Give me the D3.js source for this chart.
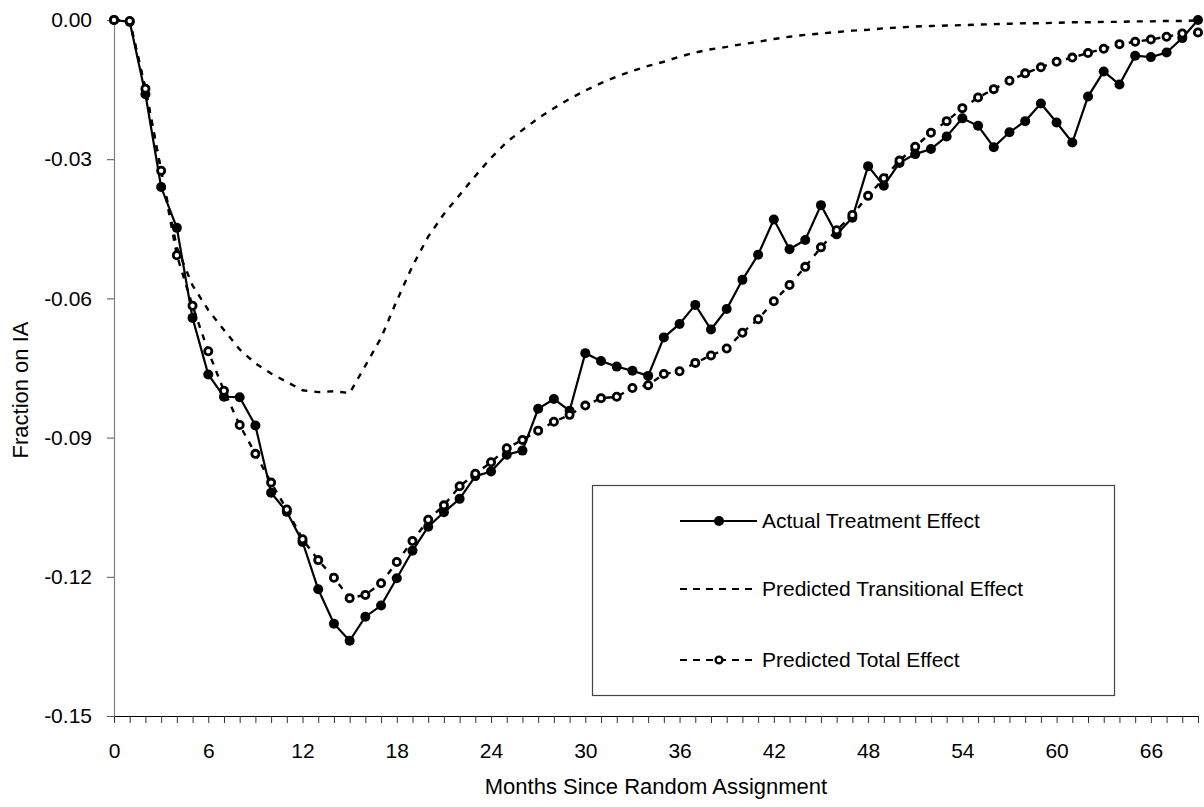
<!DOCTYPE html>
<html>
<head>
<meta charset="utf-8">
<script src="https://cdn.jsdelivr.net/npm/d3@7"></script>
<style>
    body { margin: 0; background: #fff; }
    text { font-family: "Liberation Sans", Arial, sans-serif; fill: #000; }
</style>
</head>
<body>
<div id="chart"></div>
<script>

// Months since random assignment (0 - 69)
var months = [0, 1, 2, 3, 4, 5, 6, 7, 8, 9, 10, 11, 12, 13, 14, 15, 16, 17, 18, 19,
    20, 21, 22, 23, 24, 25, 26, 27, 28, 29, 30, 31, 32, 33, 34, 35, 36, 37, 38, 39,
    40, 41, 42, 43, 44, 45, 46, 47, 48, 49, 50, 51, 52, 53, 54, 55, 56, 57, 58, 59,
    60, 61, 62, 63, 64, 65, 66, 67, 68, 69];

var actualEffect = [0, -0.0004, -0.0160, -0.0360, -0.0448, -0.0642, -0.0764, -0.0812, -0.0813, -0.0874,
    -0.1019, -0.1060, -0.1125, -0.1227, -0.1301, -0.1338, -0.1286, -0.1262, -0.1203, -0.1144,
    -0.1092, -0.1061, -0.1032, -0.0983, -0.0973, -0.0937, -0.0928, -0.0838, -0.0817, -0.0842,
    -0.0718, -0.0735, -0.0747, -0.0756, -0.0767, -0.0684, -0.0655, -0.0614, -0.0667, -0.0623,
    -0.0560, -0.0506, -0.0430, -0.0494, -0.0474, -0.0399, -0.0462, -0.0426, -0.0315, -0.0357,
    -0.0308, -0.0289, -0.0278, -0.0251, -0.0212, -0.0228, -0.0274, -0.0242, -0.0218, -0.0180,
    -0.0221, -0.0264, -0.0165, -0.0111, -0.0139, -0.0077, -0.0080, -0.0070, -0.0039, 0];

var transitionalEffect = [0, -0.0002, -0.0148, -0.0325, -0.0490, -0.0572, -0.0625, -0.0668, -0.0710, -0.0740,
    -0.0762, -0.0780, -0.0798, -0.0802, -0.0800, -0.0804, -0.0745, -0.0685, -0.0605, -0.0530,
    -0.0467, -0.0418, -0.0377, -0.0336, -0.0297, -0.0263, -0.0237, -0.0212, -0.0190, -0.0170,
    -0.0152, -0.0136, -0.0122, -0.0110, -0.0099, -0.0090, -0.0079, -0.0070, -0.0063, -0.0058,
    -0.0052, -0.0047, -0.0041, -0.0036, -0.0032, -0.0029, -0.0026, -0.0023, -0.0021, -0.0018,
    -0.0016, -0.0014, -0.0013, -0.0012, -0.0011, -0.0010, -0.0009, -0.0008, -0.0007, -0.0007,
    -0.0006, -0.0005, -0.0005, -0.0004, -0.0004, -0.0003, -0.0003, -0.0002, -0.0002, -0.0001];

var totalEffect = [0, -0.0002, -0.0148, -0.0325, -0.0507, -0.0616, -0.0714, -0.0799, -0.0873, -0.0935,
    -0.0997, -0.1055, -0.1119, -0.1164, -0.1202, -0.1246, -0.1239, -0.1214, -0.1168, -0.1123,
    -0.1077, -0.1046, -0.1005, -0.0978, -0.0953, -0.0923, -0.0905, -0.0885, -0.0866, -0.0851,
    -0.0831, -0.0815, -0.0812, -0.0793, -0.0787, -0.0763, -0.0757, -0.0739, -0.0723, -0.0708,
    -0.0674, -0.0645, -0.0606, -0.0571, -0.0532, -0.0490, -0.0453, -0.0420, -0.0379, -0.0341,
    -0.0303, -0.0273, -0.0243, -0.0218, -0.0190, -0.0167, -0.0149, -0.0131, -0.0115, -0.0102,
    -0.0090, -0.0081, -0.0071, -0.0062, -0.0052, -0.0047, -0.0042, -0.0036, -0.0029, -0.0027];

var xTickLabels = [0, 6, 12, 18, 24, 30, 36, 42, 48, 54, 60, 66];
var yTicks = [0, -0.03, -0.06, -0.09, -0.12, -0.15];

var legendLabels = ["Actual Treatment Effect", "Predicted Transitional Effect", "Predicted Total Effect"];


let margin = {top: 20, right: 6, bottom: 91, left: 114},
    width = 1204 - margin.left - margin.right,
    height = 807 - margin.top - margin.bottom;

let svg = d3.select("#chart").append("svg")
    .attr("width", width + margin.left + margin.right)
    .attr("height", height + margin.top + margin.bottom)
    .append("g")
    .attr("transform", "translate(" + margin.left + "," + margin.top + ")");


// AXIS

let x = d3.scaleLinear()
    .domain([0, 69])
    .range([0, width]);

let y = d3.scaleLinear()
    .domain([-0.15, 0])
    .range([height, 0]);

let xAxis = d3.axisBottom(x)
    .tickValues(months)
    .tickSize(7)
    .tickSizeOuter(0)
    .tickPadding(20)
    .tickFormat(d => xTickLabels.indexOf(d) >= 0 ? d : "");

let yAxis = d3.axisLeft(y)
    .tickValues(yTicks)
    .tickSize(7)
    .tickSizeOuter(0)
    .tickPadding(15)
    .tickFormat(d => d.toFixed(2));

let xAxisGroup = svg.append("g")
    .attr("class", "x-axis axis")
    .attr("transform", "translate(0," + height + ")")
    .call(xAxis);

xAxisGroup.select(".domain").attr("stroke", "#000").attr("stroke-width", 1.2);
xAxisGroup.selectAll(".tick line").attr("stroke", "#333");
xAxisGroup.selectAll("text").attr("font-size", 21).attr("font-family", null);

let yAxisGroup = svg.append("g")
    .attr("class", "y-axis axis")
    .call(yAxis);

yAxisGroup.select(".domain").attr("stroke", "#808080").attr("stroke-width", 1.2);
yAxisGroup.selectAll(".tick line").attr("stroke", "#555");
yAxisGroup.selectAll("text").attr("font-size", 21).attr("font-family", null);


// axis titles
svg.append("text")
    .attr("class", "axis-title")
    .attr("x", width / 2)
    .attr("y", height + 78)
    .attr("text-anchor", "middle")
    .attr("font-size", 22)
    .text("Months Since Random Assignment");

svg.append("text")
    .attr("class", "axis-title")
    .attr("transform", "translate(" + (28 - margin.left) + "," + (390 - margin.top) + ") rotate(-90)")
    .attr("text-anchor", "middle")
    .attr("font-size", 22)
    .text("Fraction on IA");


// ---- LINES ----
let line = d3.line()
    .x((d, i) => x(months[i]))
    .y(d => y(d));

svg.append("path")
    .datum(actualEffect)
    .attr("fill", "none")
    .attr("stroke", "#000")
    .attr("stroke-width", 2.2)
    .attr("d", line);

svg.selectAll(".actual-dot")
    .data(actualEffect)
    .enter()
    .append("circle")
    .attr("class", "actual-dot")
    .attr("cx", (d, i) => x(months[i]))
    .attr("cy", d => y(d))
    .attr("r", 5)
    .attr("fill", "#000");

svg.append("path")
    .datum(transitionalEffect)
    .attr("fill", "none")
    .attr("stroke", "#000")
    .attr("stroke-width", 2.4)
    .attr("stroke-dasharray", "6,7")
    .attr("d", line);

svg.append("path")
    .datum(totalEffect)
    .attr("fill", "none")
    .attr("stroke", "#000")
    .attr("stroke-width", 2.4)
    .attr("stroke-dasharray", "6,7")
    .attr("d", line);

svg.selectAll(".total-dot")
    .data(totalEffect)
    .enter()
    .append("circle")
    .attr("class", "total-dot")
    .attr("cx", (d, i) => x(months[i]))
    .attr("cy", d => y(d))
    .attr("r", 3.6)
    .attr("fill", "#fff")
    .attr("stroke", "#000")
    .attr("stroke-width", 2.8);


// ---- LEGEND ----
let legend = svg.append("g")
    .attr("class", "legend")
    .attr("transform", "translate(" + (592 - margin.left) + "," + (485 - margin.top) + ")");

legend.append("rect")
    .attr("x", 0.5)
    .attr("y", 0.5)
    .attr("width", 522)
    .attr("height", 210)
    .attr("fill", "#fff")
    .attr("stroke", "#444")
    .attr("stroke-width", 1.2);

let rowY = [36, 104, 175];

legendLabels.forEach(function(label, i) {
    let row = legend.append("g").attr("transform", "translate(0," + rowY[i] + ")");

    row.append("line")
        .attr("x1", 88)
        .attr("x2", 165)
        .attr("stroke", "#000")
        .attr("stroke-width", 2.2)
        .attr("stroke-dasharray", i === 0 ? null : "7,6");

    if (i === 0) {
        row.append("circle").attr("cx", 127).attr("r", 5).attr("fill", "#000");
    }
    if (i === 2) {
        row.append("circle").attr("cx", 127).attr("r", 3.4)
            .attr("fill", "#fff").attr("stroke", "#000").attr("stroke-width", 2.4);
    }

    row.append("text")
        .attr("x", 170)
        .attr("dy", "0.35em")
        .attr("font-size", 21)
        .text(label);
});

</script>
</body>
</html>
